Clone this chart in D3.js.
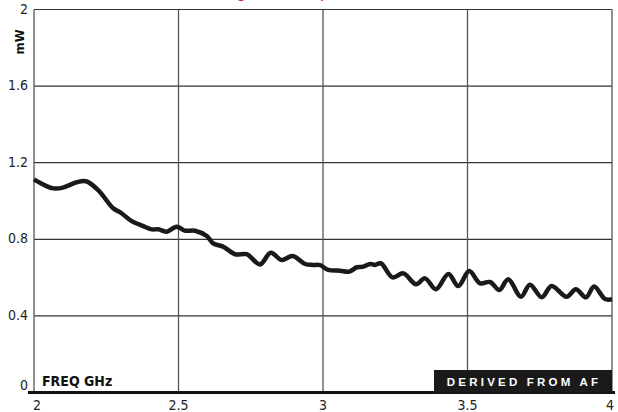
<!DOCTYPE html>
<html><head><meta charset="utf-8">
<script src="https://cdn.jsdelivr.net/npm/d3@7"></script>
<style>body{margin:0;background:#fff}svg{display:block}</style>
</head><body><svg id="c" width="618" height="412"></svg>
<script>
const freq = [2.0,2.015,2.04,2.067,2.10,2.148,2.18,2.222,2.274,2.303,2.337,2.378,2.407,2.43,2.459,2.494,2.522,2.557,2.598,2.62,2.655,2.696,2.736,2.782,2.819,2.857,2.895,2.938,2.965,2.99,3.018,3.059,3.091,3.117,3.14,3.163,3.18,3.2,3.241,3.278,3.322,3.353,3.391,3.434,3.468,3.506,3.543,3.578,3.61,3.641,3.685,3.716,3.757,3.791,3.843,3.875,3.91,3.938,3.976,4.0];
const power = [1.113,1.10,1.08,1.066,1.07,1.098,1.103,1.057,0.962,0.936,0.896,0.869,0.852,0.852,0.84,0.866,0.845,0.845,0.817,0.779,0.761,0.722,0.722,0.669,0.73,0.692,0.713,0.671,0.666,0.665,0.64,0.636,0.631,0.654,0.657,0.671,0.666,0.675,0.601,0.622,0.565,0.596,0.539,0.619,0.556,0.634,0.57,0.577,0.535,0.591,0.5,0.563,0.497,0.556,0.5,0.539,0.497,0.553,0.488,0.487];
const xTicks = [2,2.5,3,3.5,4];
const xTickLabels = ["2","2.5","3","3.5","4"];
const yTicks = [0,0.4,0.8,1.2,1.6,2];
const yTickLabels = ["0","0.4","0.8","1.2","1.6","2"];

const svg = d3.select("#c");
const x = d3.scaleLinear().domain([2,4]).range([34,612]);
const y = d3.scaleLinear().domain([0,2]).range([392.5,9.5]);
const cond = "'Liberation Sans Narrow','DejaVu Sans Condensed',Arial,sans-serif";

// red title (mostly cropped off)
svg.append("text").attr("x",190).attr("y",-3).attr("fill","#e0202a")
  .attr("font-family","Arial,sans-serif").attr("font-size",18).text("Peak gain at output");

// grid
svg.append("g").selectAll("line").data(yTicks.filter(d=>d>0)).join("line")
  .attr("x1",x(2)).attr("x2",x(4)).attr("y1",d=>y(d)).attr("y2",d=>y(d))
  .attr("stroke","#333").attr("stroke-width",1.2);
svg.append("g").selectAll("line").data(xTicks).join("line")
  .attr("x1",d=>x(d)).attr("x2",d=>x(d)).attr("y1",y(2)).attr("y2",y(0))
  .attr("stroke","#555").attr("stroke-width",1.3);

// baseline
svg.append("line").attr("x1",x(2)-6).attr("x2",x(4)+3).attr("y1",y(0)).attr("y2",y(0))
  .attr("stroke","#111").attr("stroke-width",3);

// tick labels
svg.append("g").selectAll("text").data(yTicks).join("text")
  .attr("x",28).attr("y",(d,i)=>y(d)+(i===0?-3:4)).attr("text-anchor","end")
  .attr("font-family",cond).attr("font-size",14).attr("fill","#222")
  .text((d,i)=>yTickLabels[i]);
svg.append("g").selectAll("text").data(xTicks).join("text")
  .attr("x",(d,i)=>x(d)+(i===0?3:(i===4?-2:0))).attr("y",410).attr("text-anchor","middle")
  .attr("font-family",cond).attr("font-size",14).attr("fill","#222")
  .text((d,i)=>xTickLabels[i]);

// axis titles
svg.append("text").attr("transform","translate(24,42) rotate(-90)").attr("text-anchor","middle")
  .attr("font-family",cond).attr("font-weight","bold").attr("font-size",13).attr("fill","#111").text("mW");
svg.append("text").attr("x",42).attr("y",386)
  .attr("font-family",cond).attr("font-weight","bold").attr("font-size",14).attr("fill","#111").text("FREQ  GHz");

// source box
svg.append("rect").attr("x",434).attr("y",370).attr("width",x(4)-434).attr("height",y(0)-370).attr("fill","#1a1a1a");
svg.append("text").attr("x",(434+x(4))/2+1).attr("y",386).attr("text-anchor","middle")
  .attr("font-family","Arial,sans-serif").attr("font-weight","bold").attr("font-size",11.5)
  .attr("letter-spacing","3.2px").attr("fill","#fff").text("DERIVED FROM AF");

// curve
const line = d3.line().x((d,i)=>x(freq[i])).y(d=>y(d)).curve(d3.curveCatmullRom.alpha(0.5));
svg.append("path").datum(power).attr("d",line).attr("fill","none")
  .attr("stroke","#1a1a1a").attr("stroke-width",4.5).attr("stroke-linejoin","round").attr("stroke-linecap","butt");
</script></body></html>
